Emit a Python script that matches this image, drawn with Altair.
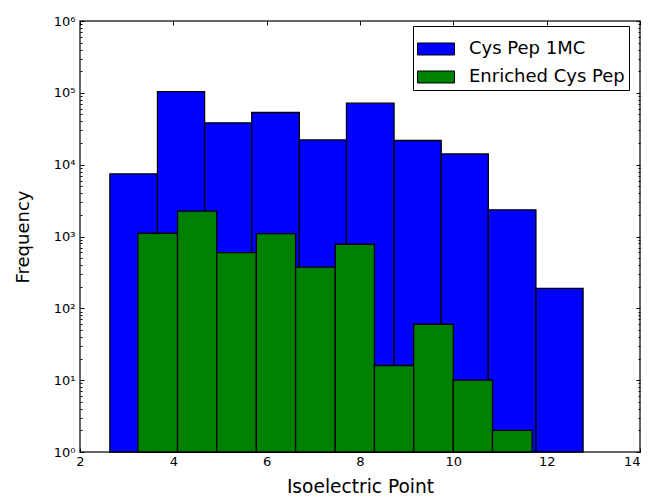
import altair as alt
import pandas as pd

# Bin edges (isoelectric point) and counts
blue_edges = [2.64, 3.66, 4.67, 5.68, 6.70, 7.71, 8.73, 9.74, 10.75, 11.77, 12.78]
blue_counts = [7450, 104000, 38200, 53200, 22100, 71800, 21700, 14100, 2350, 190]

green_edges = [3.24, 4.09, 4.93, 5.78, 6.62, 7.47, 8.31, 9.15, 10.00, 10.84, 11.69]
green_counts = [1110, 2250, 597, 1100, 374, 780, 16, 60, 10, 2]

series_names = ["Cys Pep 1MC", "Enriched Cys Pep"]
series_colors = ["#0000ff", "#008000"]

x_ticks = [2, 4, 6, 8, 10, 12, 14]
y_major = [1, 10, 100, 1000, 10000, 100000, 1000000]
y_minor = [m * d for d in y_major[:-1] for m in range(2, 10)]


def frame(edges, counts, name):
    return pd.DataFrame({
        "x0": edges[:-1],
        "x1": edges[1:],
        "count": counts,
        "base": [1] * len(counts),
        "series": [name] * len(counts),
    })


blue_df = frame(blue_edges, blue_counts, series_names[0])
green_df = frame(green_edges, green_counts, series_names[1])

xscale = alt.Scale(domain=[2, 14], nice=False, zero=False)
yscale = alt.Scale(type="log", domain=[1, 1000000], nice=False)

FONT = "DejaVu Sans"
sup = "'10' + ['\u2070','\u00b9','\u00b2','\u00b3','\u2074','\u2075','\u2076'][round(log(datum.value)/LN10)]"

color = alt.Color(
    "series:N",
    scale=alt.Scale(domain=series_names, range=series_colors),
    legend=alt.Legend(
        title=None,
        orient="none",
        legendX=333,
        legendY=5,
        symbolType="M-1,-0.324L1,-0.324L1,0.324L-1,0.324Z",
        symbolSize=1369,
        symbolStrokeColor="black",
        symbolStrokeWidth=1,
        symbolOpacity=1,
        labelFont=FONT,
        labelFontSize=18,
        labelColor="black",
        labelOffset=14,
        padding=4,
        rowPadding=-2.5,
        strokeColor="black",
        fillColor="white",
    ),
)

blue = alt.Chart(blue_df).mark_bar(stroke="black", strokeWidth=1.3, opacity=1).encode(
    x=alt.X("x0:Q", scale=xscale, axis=alt.Axis(
        orient="bottom", values=x_ticks, offset=-4, tickSize=4, domain=False, grid=False,
        labelPadding=3, labelFlush=False, labelOverlap=False, labelFont=FONT, labelFontSize=13,
        labelAlign={"condition": {"test": "datum.value >= 14", "value": "right"}, "value": "center"},
        labelColor="black", tickColor="black", title="Isoelectric Point", titleFont=FONT,
        titleFontSize=18.6, titleFontWeight="normal", titleColor="black", titlePadding=9)),
    x2="x1:Q",
    y=alt.Y("count:Q", scale=yscale, axis=alt.Axis(
        orient="left", values=y_major, offset=-4, tickSize=4, domain=False, grid=False,
        labelExpr=sup, labelPadding=5, labelFlush=False, labelOverlap=False, labelFont=FONT,
        labelFontSize=13, labelColor="black", tickColor="black", title="Frequency",
        titleFont=FONT, titleFontSize=18, titleFontWeight="normal", titleColor="black",
        titlePadding=21)),
    y2="base:Q",
    color=color,
)

green = alt.Chart(green_df).mark_bar(stroke="black", strokeWidth=1.3, opacity=1).encode(
    x=alt.X("x0:Q", scale=xscale, axis=alt.Axis(
        orient="top", values=x_ticks, offset=-4, tickSize=4, domain=False, grid=False,
        labels=False, title=None, tickColor="black")),
    x2="x1:Q",
    y=alt.Y("count:Q", scale=yscale, axis=alt.Axis(
        orient="right", values=y_major, offset=-4, tickSize=4, domain=False, grid=False,
        labels=False, title=None, tickColor="black")),
    y2="base:Q",
    color=color,
)

minor_left = alt.Chart(blue_df).mark_bar(opacity=0).encode(
    x=alt.X("x0:Q", scale=xscale, axis=None),
    x2="x1:Q",
    y=alt.Y("count:Q", scale=yscale, axis=alt.Axis(
        orient="left", values=y_minor, offset=-2, tickSize=2, domain=False, grid=False,
        labels=False, title=None, tickColor="black")),
    y2="base:Q",
)

minor_right = alt.Chart(blue_df).mark_bar(opacity=0).encode(
    x=alt.X("x0:Q", scale=xscale, axis=None),
    x2="x1:Q",
    y=alt.Y("count:Q", scale=yscale, axis=alt.Axis(
        orient="right", values=y_minor, offset=-2, tickSize=2, domain=False, grid=False,
        labels=False, title=None, tickColor="black")),
    y2="base:Q",
)

chart = alt.layer(blue, green, minor_left, minor_right).resolve_scale(
    x="shared", y="shared", color="shared"
).resolve_axis(
    x="independent", y="independent"
).properties(
    width=560,
    height=431,
    autosize=alt.AutoSizeParams(type="none"),
    padding={"left": 72, "top": 13, "right": 1, "bottom": 44},
    background="white",
).configure_view(
    stroke="#333333", strokeWidth=1.5, fill="white"
)

chart.save("out.html", embed_options={"renderer": "svg", "actions": False})
